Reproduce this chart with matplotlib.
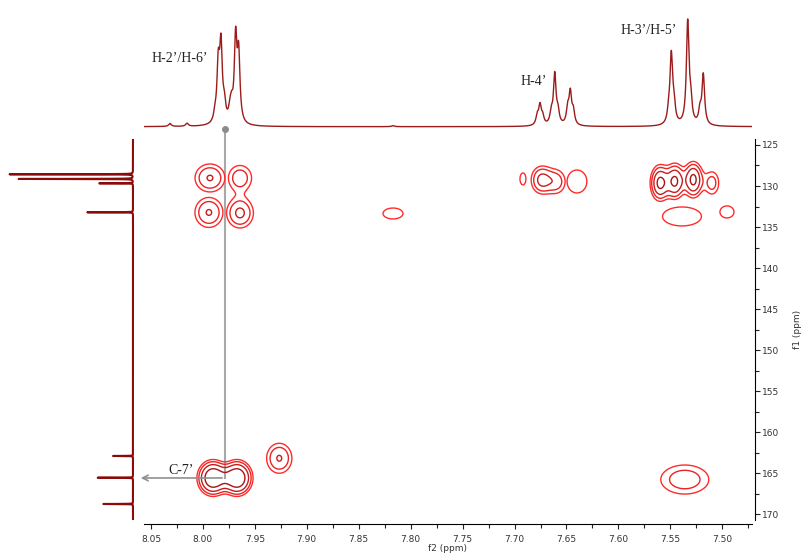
import numpy as np
import matplotlib
matplotlib.use("Agg")
import matplotlib.pyplot as plt
from matplotlib.ticker import MultipleLocator

# 1H projection on top (f2, ppm) -- peak list
h_ppm = [8.0317, 8.0153, 7.9884, 7.9852, 7.9826, 7.9794, 7.9739, 7.9723, 7.9685, 7.9656,
         7.8170, 7.6781, 7.6755, 7.6729, 7.6646, 7.6613, 7.6582, 7.6488, 7.6463, 7.6434,
         7.5516, 7.5491, 7.5465, 7.5333, 7.5304, 7.5215, 7.5183]
h_int = [3, 3, 7, 56, 74, 16, 11, 14, 82, 66,
         1, 9, 19, 8, 11, 50, 12, 15, 31, 13,
         10, 68, 18, 102, 20, 13, 50]

# 13C projection on the left (f1, ppm)
c_ppm = [128.57, 129.14, 129.67, 133.20, 162.89, 165.54, 168.74]
c_int = [123.7, 114.7, 33.7, 45.7, 20.0, 35.3, 29.7]

# HMBC cross peaks: f2, f1, height, widths, shape, group
xp_f2 = [7.9932, 7.9643, 7.9643, 7.9942, 7.8170, 7.6919, 7.6739, 7.6594, 7.6399,
         7.5600, 7.5455, 7.5279, 7.5099, 7.5388, 7.4955, 7.9265, 7.9903, 7.9672, 7.5361]
xp_f1 = [129.02, 129.02, 133.29, 133.22, 133.35, 129.14, 129.26, 129.47, 129.45,
         129.63, 129.42, 129.23, 129.63, 133.71, 133.16, 163.17, 165.57, 165.57, 165.76]
xp_amp = [2.7, 2.2, 2.9, 2.7, 1.3, 1.2, 3.0, 2.0, 1.4,
          4.6, 4.4, 4.6, 2.0, 1.5, 1.5, 2.7, 5.5, 5.5, 2.2]
xp_wx = [0.0144, 0.0125, 0.0125, 0.0135, 0.0188, 0.0067, 0.0096, 0.0096, 0.0164,
         0.0077, 0.0077, 0.0077, 0.0077, 0.0253, 0.0106, 0.0122, 0.0125, 0.0125, 0.0260]
xp_wy = [1.71, 1.71, 1.77, 1.83, 1.30, 1.71, 1.58, 1.58, 2.41,
         1.80, 1.80, 1.80, 1.60, 1.56, 1.15, 1.83, 1.82, 1.82, 1.99]
xp_shape = [1, 1, 1, 1, 1, 1, 1, 1, 1,
            1, 1, 1, 1, 1.5, 1, 1, 1.25, 1.25, 1]
xp_group = [0, 1, 1, 2, 3, 4, 5, 5, 6,
            7, 7, 7, 7, 8, 9, 10, 11, 11, 12]

levels = [1, 1.6, 2.6, 4.1, 6.6]
level_colors = ['#ff2b2b', '#e82424', '#c81c1c', '#a51515', '#8a1010']

# H-2'/H-6' -> C-7' correlation marker
link_f2 = 7.9788
link_f1 = 165.57

x_lim = (8.0567, 7.4714)
y_lim = (170.69, 124.31)


def lorentz(axis, centers, heights, w):
    out = np.zeros_like(axis)
    for c, h in zip(centers, heights):
        out += h * w**2 / ((axis - c)**2 + w**2)
    return out


fig = plt.figure(figsize=(8.06, 5.53), dpi=100)
W, H = 806.0, 553.0
ax = fig.add_axes([144 / W, 1 - 520 / H, 608 / W, 380.7 / H])
ax_top = fig.add_axes([144 / W, 1 - 132 / H, 608 / W, 132 / H])
ax_left = fig.add_axes([0, 1 - 520 / H, 144 / W, 380.7 / H])

# top 1D spectrum
f2 = np.linspace(x_lim[0], x_lim[1], 5000)
ax_top.plot(f2, lorentz(f2, h_ppm, h_int, 0.0015), color='#9b1b1b', lw=1.0)
ax_top.set_xlim(x_lim)
ax_top.set_ylim(-5.3, 126.7)
ax_top.axis('off')
serif = dict(family='Liberation Serif', fontsize=10, color='#222222', ha='center', va='center')
ax_top.text(8.0221, 67.7, 'H-2’/H-6’', **serif)
ax_top.text(7.6820, 45.0, 'H-4’', **serif)
ax_top.text(7.5707, 96.7, 'H-3’/H-5’', **serif)

# left 1D spectrum
f1 = np.linspace(124.1, 170.7, 30000)
ax_left.plot(lorentz(f1, c_ppm, c_int, 0.012), f1, color='#8b0a0a', lw=1.5)
ax_left.set_ylim(y_lim)
ax_left.set_xlim(133, -11)
ax_left.axis('off')

# 2D contour map
gx = np.linspace(x_lim[1], x_lim[0], 800)
gy = np.linspace(y_lim[1], y_lim[0], 600)
X, Y = np.meshgrid(gx, gy)
Z = np.zeros((max(xp_group) + 1,) + X.shape)
for x0, y0, a, sx, sy, p, g in zip(xp_f2, xp_f1, xp_amp, xp_wx, xp_wy, xp_shape, xp_group):
    r2 = ((X - x0) / sx)**2 + ((Y - y0) / sy)**2
    Z[g] += a * np.exp(-r2**p)
Z = Z.max(axis=0)
ax.contour(X, Y, Z, levels=levels, colors=level_colors, linewidths=1.0)

# correlation line and arrow
ax.plot([link_f2, link_f2], [link_f1, y_lim[1] - 1.22], color='#a8a8a8', lw=1.5,
        clip_on=False, zorder=1)
ax.plot([link_f2], [y_lim[1] - 1.22], 'o', color='#8c8c8c', ms=4, clip_on=False)
ax.annotate('', xy=(8.0625, link_f1), xytext=(link_f2, link_f1),
            arrowprops=dict(arrowstyle='->', color='#909090', lw=1.2),
            annotation_clip=False)
ax.text(8.0206, 164.60, 'C-7’', **serif)

ax.set_xlim(x_lim)
ax.set_ylim(y_lim)
for s in ['top', 'left']:
    ax.spines[s].set_visible(False)
ax.spines['bottom'].set_position(('outward', 3))
ax.spines['right'].set_position(('outward', 2))
ax.xaxis.set_major_locator(MultipleLocator(0.05))
ax.xaxis.set_minor_locator(MultipleLocator(0.025))
ax.yaxis.set_major_locator(MultipleLocator(5))
ax.yaxis.set_minor_locator(MultipleLocator(2.5))
ax.yaxis.tick_right()
ax.yaxis.set_label_position('right')
ax.tick_params(which='both', direction='out', labelsize=6.5, color='#222222',
               labelcolor='#333333', width=0.8)
ax.tick_params(which='major', length=3.5)
ax.tick_params(which='minor', length=3)
ax.tick_params(axis='x', pad=4)
ax.tick_params(axis='y', pad=1.5)
ax.xaxis.set_major_formatter(plt.FuncFormatter(lambda v, _: f'{v:.2f}'))
ax.set_xlabel('f2 (ppm)', fontsize=6.5, color='#333333', labelpad=0)
ax.set_ylabel('f1 (ppm)', fontsize=6.5, color='#333333', labelpad=10)

fig.savefig('out.png', dpi=100)
